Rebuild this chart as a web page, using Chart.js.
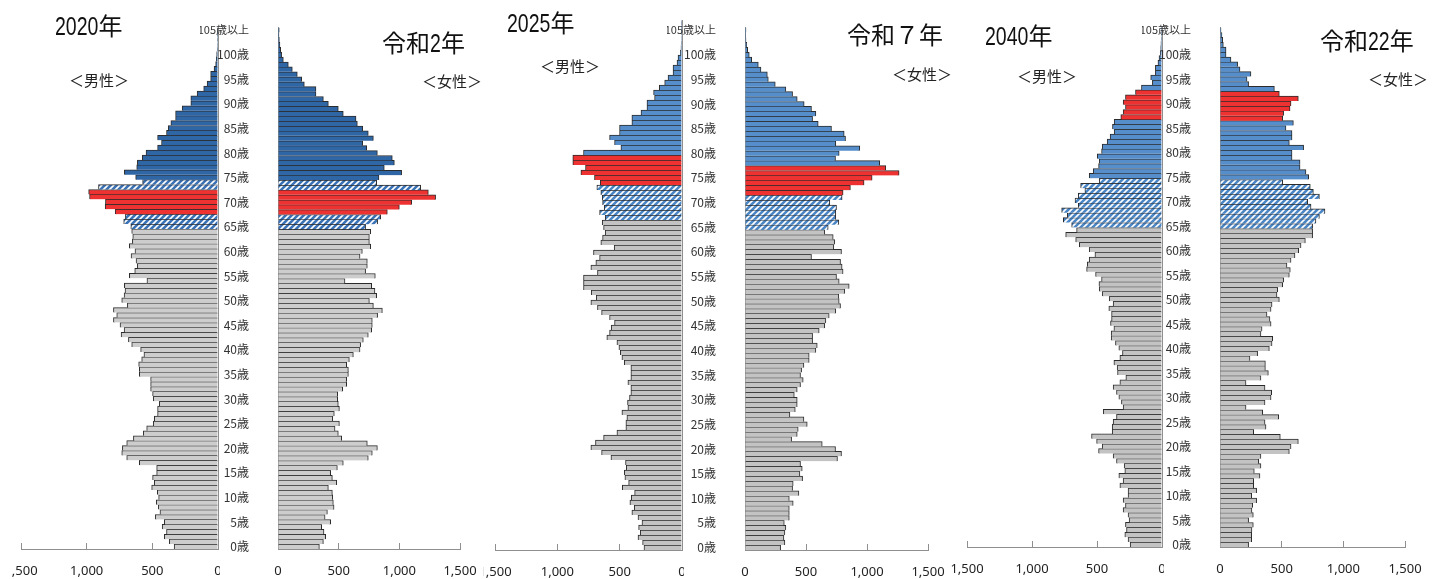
<!DOCTYPE html>
<html lang="ja">
<head>
<meta charset="utf-8">
<script src="https://cdn.jsdelivr.net/npm/chart.js@4.4.1/dist/chart.umd.min.js"></script>
<style>
  body { margin: 0; width: 1438px; height: 579px; background: #fff; position: relative; overflow: hidden; }
  .clip { position: absolute; top: 0; height: 579px; overflow: hidden; }
  .clip canvas { position: absolute; top: 0; }
  .txt { position: absolute; white-space: nowrap; color: #111; font-family: 'Noto Sans CJK JP', sans-serif; }
  .year { font-size: 24px; line-height: 26px; }
  .year .n { display: inline-block; font-family: 'Liberation Sans', sans-serif; font-size: 26px;
             transform: scaleX(0.75); transform-origin: 0 50%; }
  .sex { font-size: 15px; line-height: 15px; color: #222; }
</style>
</head>
<body>
<script>
// ages 0..105, value unit: thousand persons
const ageLabels = Array.from({ length: 106 }, (_, i) => i === 105 ? '105歳以上' : i + '歳');
const xTickValues = [0, 500, 1000, 1500];

const male2020 = [334,371,409,392,425,409,478,442,455,470, 452,462,505,485,498,467,467,599,695,733,
  728,695,644,569,543,493,485,460,460,447, 493,498,513,513,513,599,599,604,581,564,
  589,657,682,738,715,746,796,771,796,690, 733,715,708,713,541,675,634,614,624,662,
  632,675,652,649,657,664,718,705,783,859, 857,978,985,910,574,627,713,619,614,576,
  548,460,430,460,392,379,359,323,323,273, 207,207,159,109,83,56,56,30,18,13,
  10,6,4,3,2,5];
const female2020 = [341,374,393,379,360,434,388,407,462,456, 451,448,415,484,448,434,489,538,744,777,
  819,736,525,497,470,506,451,464,506,497, 492,492,533,566,566,580,580,566,588,621,
  676,681,703,744,772,777,777,821,860,786, 753,813,799,772,552,802,722,736,736,676,
  695,764,753,753,764,722,821,846,901,1000, 1102,1299,1239,1176,813,832,1019,876,959,942,
  819,731,698,786,744,698,654,643,538,497, 415,374,313,313,217,195,159,118,85,44,
  30,22,16,11,8,10];
const male2025 = [305,316,353,335,348,321,353,402,383,418, 407,380,479,428,458,463,447,453,570,645,
  731,694,629,522,450,450,442,482,434,437, 421,410,410,434,410,410,410,463,482,495,
  506,522,603,581,568,541,581,645,678,731, 688,728,790,790,790,678,731,691,661,710,
  544,651,637,616,629,640,616,661,624,637, 640,651,683,656,702,811,774,876,876,790,
  490,541,581,501,501,402,402,329,281,281, 220,228,182,139,112,72,72,40,32,13,
  8,5,4,3,2,5];
const female2025 = [292,327,319,327,335,322,363,363,363,395, 363,442,390,395,472,450,469,455,758,791,
  742,633,382,428,436,510,483,368,412,428, 428,404,428,455,477,455,464,483,526,526,
  581,592,554,554,608,654,663,690,744,783, 772,769,818,854,772,750,804,796,783,545,
  791,728,736,723,654,682,769,744,744,750, 695,796,804,864,976,1042,1263,1154,1104,742,
  772,941,744,824,813,709,600,554,581,545, 485,428,390,335,248,191,183,131,109,55,
  35,22,14,8,6,8];
const male2040 = [245,261,286,273,281,253,261,299,281,299, 261,261,324,299,332,286,291,350,376,488,
  460,503,542,383,383,376,350,452,299,312, 332,350,376,324,278,342,345,370,324,304,
  332,358,391,391,370,396,388,388,409,376, 406,460,483,485,465,511,580,575,560,516,
  560,636,664,741,657,695,759,728,772,644, 669,644,593,626,483,560,529,488,483,498,
  465,460,422,399,368,381,368,317,299,281, 299,281,204,158,74,87,51,51,31,23,
  13,10,8,5,5,5];
const female2040 = [232,257,257,259,270,232,270,259,265,297, 257,297,273,273,324,278,332,314,332,562,
  576,635,489,273,373,365,476,346,211,365, 414,419,365,211,332,392,368,368,243,305,
  400,422,427,332,341,414,405,381,414,422, 481,462,468,508,516,562,570,543,576,608,
  638,657,692,751,751,751,778,806,851,738, 711,806,757,732,508,719,697,649,649,584,
  584,678,562,584,584,535,595,508,516,568, 576,635,481,441,232,219,251,162,143,89,
  49,49,27,22,16,8];

// age groups per side: red band, hatched bands, blue from this age up
const groups2020 = { red: [68, 72], hatch: [[65, 67], [73, 74]], blueFrom: 75 };
const groups2025m = { red: [73, 78], hatch: [[66, 72]], blueFrom: 79 };
const groups2025f = { red: [72, 77], hatch: [[65, 71]], blueFrom: 78 };
const groups2040 = { red: [87, 92], hatch: [[65, 74]], blueFrom: 75 };

const GRID = '#8f8f8f';
const BORDER = '#2b2b2b';

function hatch(color) {
  const c = document.createElement('canvas');
  c.width = 6; c.height = 6;
  const g = c.getContext('2d');
  g.fillStyle = color;
  g.fillRect(0, 0, 6, 6);
  g.strokeStyle = '#fff';
  g.lineWidth = 1.6;
  g.beginPath();
  g.moveTo(-1, 7); g.lineTo(7, -1);
  g.moveTo(-4, 4); g.lineTo(4, -4);
  g.moveTo(2, 10); g.lineTo(10, 2);
  g.stroke();
  return g.createPattern(c, 'repeat');
}

function barColors(grp, pal) {
  const hp = hatch(pal.hatch);
  return ageLabels.map((_, a) => {
    if (a >= grp.red[0] && a <= grp.red[1]) return pal.red;
    if (grp.hatch.some(r => a >= r[0] && a <= r[1])) return hp;
    if (a >= grp.blueFrom) return pal.blue;
    return pal.gray;
  });
}

const fmt = v => String(v).replace(/\B(?=(\d{3})+(?!\d))/g, ',');

const panels = [
  { clip: [12, 481], male: [21, 218], female: [278, 460], top: 27, bottom: 549,
    m: male2020, f: female2020, gm: groups2020, gf: groups2020,
    pal: { blue: '#2f66a6', hatch: '#3a72b6', red: '#ee3232', gray: '#cdcdcd' } },
  { clip: [483, 950], male: [495, 682], female: [745, 928], top: 20, bottom: 550,
    m: male2025, f: female2025, gm: groups2025m, gf: groups2025f,
    pal: { blue: '#558ecb', hatch: '#4a86c6', red: '#ee3232', gray: '#c3c3c3' } },
  { clip: [950, 1438], male: [967, 1162], female: [1220, 1405], top: 26, bottom: 547,
    m: male2040, f: female2040, gm: groups2040, gf: groups2040,
    pal: { blue: '#558ecb', hatch: '#4a86c6', red: '#ee3232', gray: '#c3c3c3' } }
];

function makeSide(holder, p, isMale) {
  const [aL, aR] = isMale ? p.male : p.female;
  const padL = isMale ? 40 : 2;
  const yW = isMale ? 0 : 78;
  const padR = isMale ? 2 : 40;
  const left = aL - padL - yW;
  const width = (aR - aL) + padL + yW + padR;
  const cv = document.createElement('canvas');
  cv.width = width; cv.height = 579;
  cv.style.left = (left - p.clip[0]) + 'px';
  cv.style.width = width + 'px'; cv.style.height = '579px';
  holder.appendChild(cv);

  new Chart(cv, {
    type: 'bar',
    data: {
      labels: ageLabels,
      datasets: [{
        data: isMale ? p.m : p.f,
        backgroundColor: barColors(isMale ? p.gm : p.gf, p.pal),
        borderColor: BORDER,
        borderWidth: { top: 1, right: 1, bottom: 0, left: 1 },
        borderSkipped: 'start',
        barPercentage: 1,
        categoryPercentage: 1
      }]
    },
    options: {
      indexAxis: 'y',
      responsive: false,
      animation: false,
      layout: { autoPadding: false, padding: { top: p.top, bottom: 0, left: padL, right: padR } },
      plugins: { legend: { display: false }, tooltip: { enabled: false } },
      scales: {
        x: {
          type: 'linear', reverse: isMale, min: 0, max: 1500,
          afterFit: s => { s.height = 579 - p.bottom; },
          afterBuildTicks: s => { s.ticks = xTickValues.map(v => ({ value: v })); },
          ticks: { callback: v => fmt(v), color: '#222', padding: 20, maxRotation: 0, autoSkip: false,
                   font: { family: "'Noto Sans', sans-serif", size: 13 } },
          grid: { drawOnChartArea: false, drawTicks: true, tickLength: -6, color: GRID },
          border: { color: GRID }
        },
        y: {
          reverse: true, position: isMale ? 'right' : 'left',
          afterFit: s => { s.width = yW; },
          ticks: {
            display: !isMale, autoSkip: false, padding: 21, color: '#333',
            callback: (v, i) => (i % 5 === 0 || i === 105) ? ageLabels[i] : '',
            font: c => ({ family: "'Noto Sans CJK JP', sans-serif", size: c.index === 105 ? 11 : 12 })
          },
          grid: { display: false },
          border: { color: GRID }
        }
      }
    }
  });
}

panels.forEach(p => {
  const holder = document.createElement('div');
  holder.className = 'clip';
  holder.style.left = p.clip[0] + 'px';
  holder.style.width = (p.clip[1] - p.clip[0]) + 'px';
  document.body.appendChild(holder);
  makeSide(holder, p, true);
  makeSide(holder, p, false);
});

// headings: [before digits, digits, after digits, class, left, centre y]
const texts = [
  ['', '2020', '年', 'year', 55, 25], ['令和', '2', '年', 'year', 382, 42],
  ['＜男性＞', '', '', 'sex', 69, 79], ['＜女性＞', '', '', 'sex', 422, 80],
  ['', '2025', '年', 'year', 507, 22], ['令和', '', '７年', 'year', 847, 34],
  ['＜男性＞', '', '', 'sex', 540, 65], ['＜女性＞', '', '', 'sex', 892, 73],
  ['', '2040', '年', 'year', 985, 35], ['令和', '22', '年', 'year', 1320, 40],
  ['＜男性＞', '', '', 'sex', 1017, 75], ['＜女性＞', '', '', 'sex', 1368, 78]
];
texts.forEach(([pre, num, post, cls, x, cy]) => {
  const d = document.createElement('div');
  d.className = 'txt ' + cls;
  d.appendChild(document.createTextNode(pre));
  if (num) {
    const s = document.createElement('span');
    s.className = 'n';
    s.textContent = num;
    s.style.width = (num.length * 10.9) + 'px';
    d.appendChild(s);
  }
  d.appendChild(document.createTextNode(post));
  const h = cls === 'year' ? 26 : 15;
  d.style.left = x + 'px';
  d.style.top = (cy - h / 2) + 'px';
  document.body.appendChild(d);
});
</script>
</body>
</html>
